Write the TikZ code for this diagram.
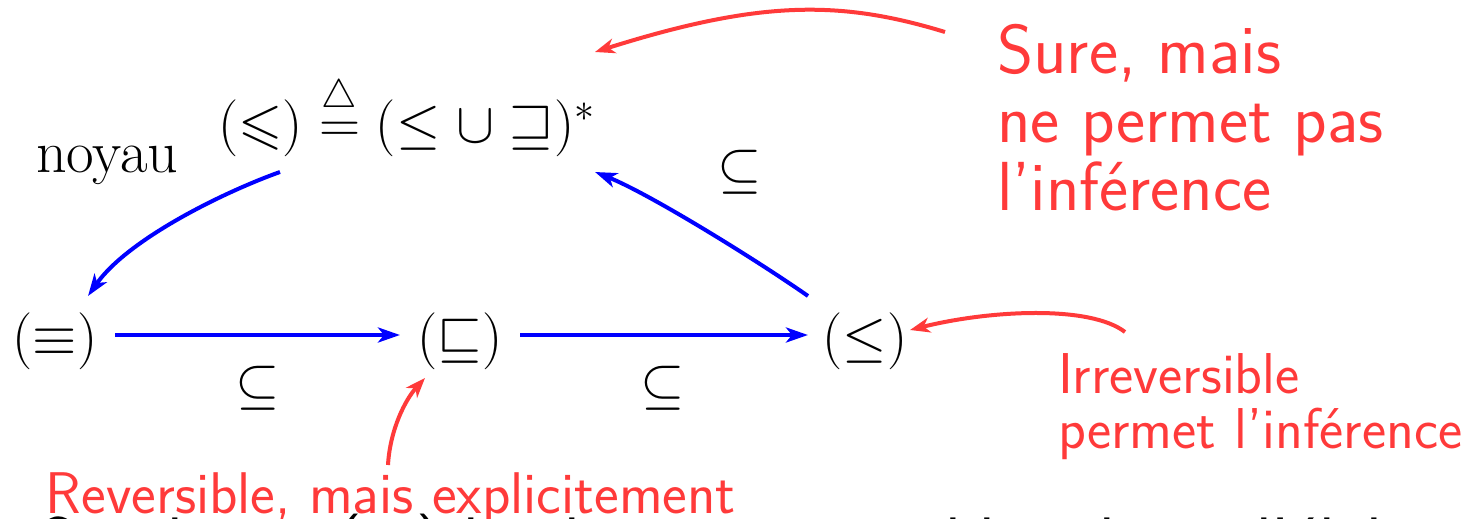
\RequirePackage{fix-cm}
\documentclass[tikz,border=0pt]{standalone}
\usepackage{amssymb}
\usepackage{fontspec}
\usetikzlibrary{arrows.meta,calc}
\definecolor{myred}{RGB}{255,58,58}
\definecolor{myblue}{RGB}{0,0,255}
\begin{document}
\begin{tikzpicture}[x=0.5pt,y=-0.5pt,
  every node/.style={inner sep=0pt,outer sep=0pt},
  mathnode/.style={font=\fontsize{28.5}{32}\selectfont},
  roman/.style={font=\fontsize{30}{34}\selectfont},
  redbig/.style={text=myred,font=\fontsize{34.7}{36}\sffamily},
  redsmall/.style={text=myred,font=\fontsize{28.8}{32}\sffamily},
  redrev/.style={text=myred,font=\fontsize{29.4}{32}\sffamily},
  bottomtext/.style={font=\fontsize{35}{38}\sffamily},
  bluearrow/.style={draw=myblue,line width=2pt,-{Stealth[length=11pt,width=7.5pt,inset=3pt]}},
  redarrow/.style={draw=myred,line width=2pt,-{Stealth[length=10pt,width=7.5pt,inset=3pt]}}]
\clip (0,0) rectangle (1477,519);
\node[roman,anchor=base west] (noyau) at (36,172) {noyau};
\node[mathnode,anchor=base] (top) at (407,142) {$(\leqslant)\stackrel{\triangle}{=}(\leq\cup\sqsupseteq)^*$};
\node[mathnode,anchor=base] (eq) at (55,355) {$(\equiv)$};
\node[mathnode,anchor=base] (sq) at (460,355) {$(\sqsubseteq)$};
\node[mathnode,anchor=base] (le) at (865,355) {$(\leq)$};
\node[mathnode] (s1) at (258,388) {$\subseteq$};
\node[mathnode] (s2) at (663,388) {$\subseteq$};
\node[mathnode] (s3) at (740,172) {$\subseteq$};
\node[redbig,anchor=base west] (sure1) at (997,74) {Sure, mais};
\node[redbig,anchor=base west] (sure2) at (997,142) {ne permet pas};
\node[redbig,anchor=base west] (sure3) at (997,210) {l'inférence};
\node[redsmall,anchor=base west] (irr1) at (1058,393) {Irreversible};
\node[redsmall,anchor=base west] (irr2) at (1058,448) {permet l'inférence};
\node[redrev,anchor=base west] (rev) at (46,513) {Reversible, mais explicitement};
\node[bottomtext,anchor=base west] (bottom) at (34,566) {On choisit ($\sqsubseteq$) le plus petit possible tel que l'élaboration};
\draw[bluearrow] ($(eq.base)+(60,-20)$) -- ($(sq.base)+(-60,-20)$);
\draw[bluearrow] ($(sq.base)+(60,-20)$) -- ($(le.base)+(-57,-20)$);
\draw[bluearrow] ($(top.base)+(-127,30)$) .. controls (224,192) and (128,239) .. ($(eq.base)+(33,-59)$);
\draw[bluearrow] ($(le.base)+(-57,-59)$) .. controls (758,261) and (650,194) .. ($(top.base)+(188,30)$);
\draw[redarrow] ($(sure1.base west)+(-52,-42)$) .. controls (840,0) and (760,0) .. ($(top.base)+(188,-90)$);
\draw[redarrow] ($(irr1.base west)+(67,-61)$) .. controls (1090,305) and (990,310) .. ($(le.base)+(45,-25)$);
\draw[redarrow] ($(rev.base west)+(342,-48)$) .. controls (390,430) and (405,400) .. ($(sq.base)+(-35,23)$);
\end{tikzpicture}
\end{document}
